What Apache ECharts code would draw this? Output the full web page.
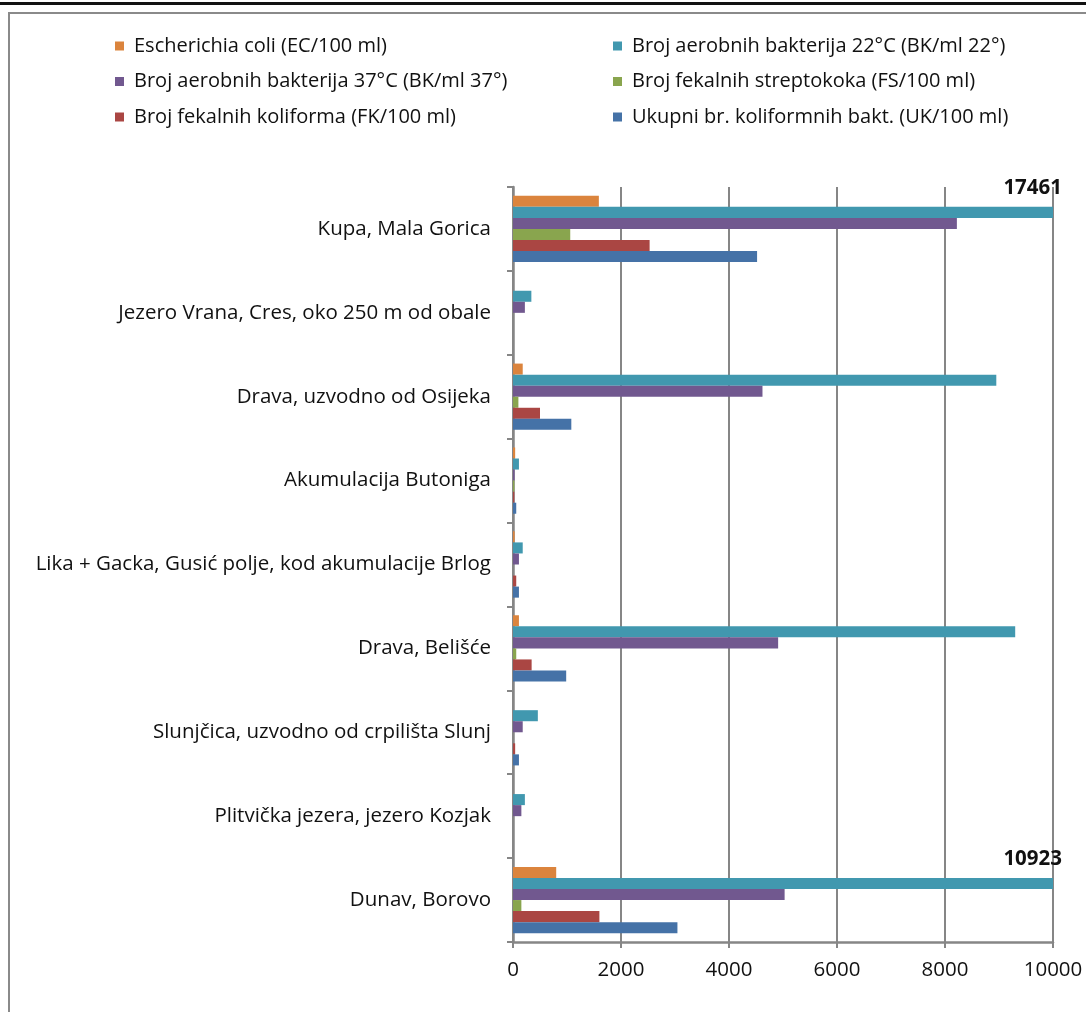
<!DOCTYPE html>
<html>
<head>
<meta charset="utf-8">
<script src="https://cdn.jsdelivr.net/npm/echarts@6/dist/echarts.min.js"></script>
<style>
html, body { margin: 0; padding: 0; background: #fff; overflow: hidden; }
#topline { position: absolute; left: 0; top: 2px; width: 1086px; height: 3px; background: #111; }
#frame { position: absolute; left: 8px; top: 12px; width: 1100px; height: 1100px; border-left: 2px solid #8a8a8a; border-top: 2px solid #8a8a8a; box-sizing: border-box; }
#chart { position: absolute; left: 0; top: 0; width: 1086px; height: 1012px; }
</style>
</head>
<body>
<div id="topline"></div>
<div id="frame"></div>
<div id="chart"></div>
<script>
const categories = [
  'Kupa, Mala Gorica',
  'Jezero Vrana, Cres, oko 250 m od obale',
  'Drava, uzvodno od Osijeka',
  'Akumulacija Butoniga',
  'Lika + Gacka, Gusić polje, kod akumulacije Brlog',
  'Drava, Belišće',
  'Slunjčica, uzvodno od crpilišta Slunj',
  'Plitvička jezera, jezero Kozjak',
  'Dunav, Borovo'
];
const seriesNames = [
  'Escherichia coli (EC/100 ml)',
  'Broj aerobnih bakterija 22°C (BK/ml 22°)',
  'Broj aerobnih bakterija 37°C (BK/ml 37°)',
  'Broj fekalnih streptokoka (FS/100 ml)',
  'Broj fekalnih koliforma (FK/100 ml)',
  'Ukupni br. koliformnih bakt. (UK/100 ml)'
];
const ecValues   = [1590, 0, 180, 40, 30, 110, 0, 0, 800];
const bk22Values = [17461, 340, 8950, 110, 180, 9300, 460, 220, 10923];
const bk37Values = [8220, 220, 4620, 30, 110, 4910, 180, 155, 5030];
const fsValues   = [1060, 0, 100, 25, 0, 60, 0, 0, 155];
const fkValues   = [2530, 0, 500, 25, 60, 345, 40, 0, 1600];
const ukValues   = [4520, 0, 1080, 60, 110, 985, 110, 0, 3045];
const xTicks = [0, 2000, 4000, 6000, 8000, 10000];

const colors = ['#DB843D', '#4198AF', '#71588F', '#89A54E', '#AA4643', '#4572A7'];
const FONT = '"Open Sans", "Liberation Sans", sans-serif';
const axisMax = xTicks[xTicks.length - 1];
const allValues = [ecValues, bk22Values, bk37Values, fsValues, fkValues, ukValues];

const chart = echarts.init(document.getElementById('chart'));
const legendCommon = {
  orient: 'vertical', top: 30, itemGap: 13.5, itemWidth: 9, itemHeight: 9, icon: 'rect',
  textStyle: { fontFamily: FONT, fontSize: 20, color: '#111', lineHeight: 22, padding: [0, 0, 0, 5] },
  selectedMode: false
};
chart.setOption({
  animation: false,
  color: colors,
  legend: [
    Object.assign({ left: 110, data: [seriesNames[0], seriesNames[2], seriesNames[4]] }, legendCommon),
    Object.assign({ left: 608, data: [seriesNames[1], seriesNames[3], seriesNames[5]] }, legendCommon)
  ],
  grid: { left: 513, right: 33, top: 187, bottom: 70, containLabel: false },
  xAxis: {
    type: 'value', min: 0, max: axisMax, interval: 2000,
    axisLine: { show: true, lineStyle: { color: '#868686', width: 2.5 } },
    axisTick: { show: true, length: 6, lineStyle: { color: '#868686', width: 2 } },
    splitLine: { show: true, lineStyle: { color: '#868686', width: 2 } },
    axisLabel: { fontFamily: FONT, fontSize: 20.5, color: '#111', margin: 18, formatter: v => String(v) }
  },
  yAxis: {
    type: 'category', data: categories, inverse: true,
    axisLine: { show: true, lineStyle: { color: '#868686', width: 2.5 } },
    axisTick: { show: true, length: 6, lineStyle: { color: '#868686', width: 2 } },
    axisLabel: { fontFamily: FONT, fontSize: 20.5, color: '#111', margin: 22 }
  },
  series: allValues.map((vals, i) => ({
    name: seriesNames[i],
    type: 'bar',
    data: vals,
    barGap: '0%',
    barCategoryGap: '21%',
    clip: true,
    label: {
      show: true,
      position: 'insideRight',
      offset: [14, -24],
      fontFamily: FONT, fontSize: 20.5, fontWeight: 'bold', color: '#111',
      formatter: p => (p.value > axisMax ? String(p.value) : '')
    }
  }))
});
</script>
</body>
</html>
